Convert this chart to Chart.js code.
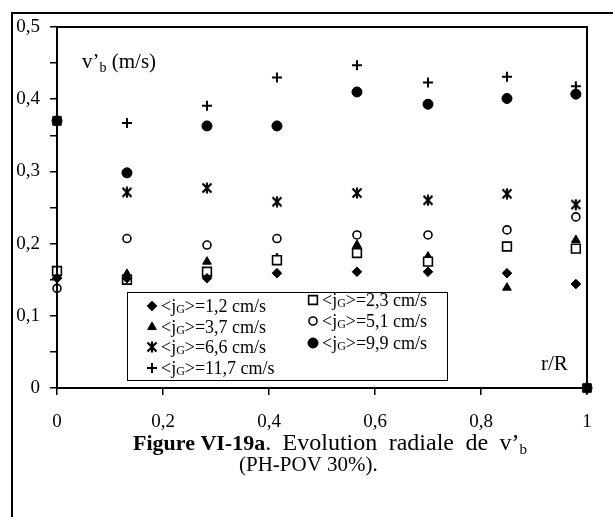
<!DOCTYPE html>
<html>
<head>
<meta charset="utf-8">
<script src="https://cdn.jsdelivr.net/npm/chart.js@4/dist/chart.umd.min.js"></script>
<style>
  html, body { margin: 0; padding: 0; background: #fff; }
  #wrap { width: 613px; height: 517px; }
</style>
</head>
<body>
<div id="wrap"><canvas id="c" width="613" height="517"></canvas></div>
<script>
/* ---- data ---- */
const radialPos = [0, 0.132, 0.283, 0.415, 0.566, 0.700, 0.849, 0.979, 1];

const jg12  = [0.152, 0.152, 0.152, 0.159, 0.161, 0.161, 0.159, 0.144, null];
const jg23  = [0.162, 0.150, 0.161, 0.177, 0.187, 0.175, 0.196, 0.193, null];
const jg37  = [0.155, 0.158, 0.175, 0.180, 0.198, 0.182, 0.139, 0.205, null];
const jg51  = [0.138, 0.207, 0.198, 0.207, 0.212, 0.212, 0.219, 0.237, null];
const jg66  = [0.370, 0.271, 0.277, 0.258, 0.270, 0.260, 0.269, 0.254, 0];
const jg99  = [0.370, 0.298, 0.363, 0.363, 0.410, 0.393, 0.401, 0.407, 0];
const jg117 = [0.370, 0.367, 0.391, 0.430, 0.447, 0.423, 0.431, 0.418, 0];

const seriesLabels = ['1,2', '2,3', '3,7', '5,1', '6,6', '9,9', '11,7'];
const xTicks = [0, 0.2, 0.4, 0.6, 0.8, 1];

const SERIF = "'Liberation Serif', 'Times New Roman', serif";

/* asterisk marker (X with a vertical bar) */
function makeStar() {
  const c = document.createElement('canvas');
  c.width = 12; c.height = 12;
  const g = c.getContext('2d');
  g.strokeStyle = '#000'; g.lineWidth = 2.2; g.lineCap = 'butt';
  g.beginPath();
  g.moveTo(1.5, 1.5); g.lineTo(10.5, 10.5);
  g.moveTo(10.5, 1.5); g.lineTo(1.5, 10.5);
  g.moveTo(6, 0.5); g.lineTo(6, 11.5);
  g.stroke();
  return c;
}
const starImg = makeStar();

function pts(arr) {
  const out = [];
  arr.forEach((v, i) => { if (v !== null) out.push({ x: radialPos[i], y: v }); });
  return out;
}

function ds(label, arr, style, radius, fill, bw) {
  return {
    label: label,
    data: pts(arr),
    pointStyle: style,
    pointRadius: radius,
    pointHoverRadius: radius,
    pointBackgroundColor: fill,
    pointBorderColor: '#000',
    pointBorderWidth: bw,
    showLine: false,
    clip: false
  };
}

const datasets = [
  ds(seriesLabels[0], jg12,  'rectRot',  4.8, '#000', 1),
  ds(seriesLabels[1], jg23,  'rect',     6.2, '#fff', 1.6),
  ds(seriesLabels[2], jg37,  'triangle', 5,   '#000', 1),
  ds(seriesLabels[3], jg51,  'circle',   4,   '#fff', 1.6),
  ds(seriesLabels[4], jg66,  starImg,    6,   '#000', 1),
  ds(seriesLabels[5], jg99,  'circle',   5,   '#000', 1),
  ds(seriesLabels[6], jg117, 'cross',    5,   '#000', 2)
];

/* text with a subscript piece */
function richText(ctx, parts, x, y) {
  let cx = x;
  parts.forEach(p => {
    ctx.font = p.font;
    ctx.fillText(p.t, cx, y + (p.dy || 0));
    cx += ctx.measureText(p.t).width;
  });
  return cx;
}

const decor = {
  id: 'decor',
  beforeDraw(chart) {
    const ctx = chart.ctx;
    ctx.save();
    ctx.fillStyle = '#fff';
    ctx.fillRect(0, 0, chart.width, chart.height);
    ctx.restore();
  },
  afterDraw(chart) {
    const ctx = chart.ctx;
    const a = chart.chartArea;
    ctx.save();
    ctx.strokeStyle = '#000';
    ctx.fillStyle = '#000';

    // outer page frame (left + top only)
    ctx.lineWidth = 2;
    ctx.beginPath();
    ctx.moveTo(12, 517); ctx.lineTo(12, 13); ctx.lineTo(613, 13);
    ctx.stroke();

    // plot frame
    ctx.strokeRect(a.left, a.top, a.right - a.left, a.bottom - a.top);

    // axis titles
    ctx.textBaseline = 'alphabetic';
    richText(ctx, [
      { t: 'v\u2019', font: '21px ' + SERIF },
      { t: 'b', font: '14px ' + SERIF, dy: 4 },
      { t: ' (m/s)', font: '21px ' + SERIF }
    ], 82, 68);
    ctx.font = '21px ' + SERIF;
    ctx.fillText('r/R', 541, 370);

    // legend box
    ctx.lineWidth = 1;
    ctx.strokeRect(127.5, 292.5, 320, 88);
    const H = Chart.helpers;
    const entry = (i, mx, y) => {
      const d = chart.data.datasets[i];
      ctx.fillStyle = d.pointBackgroundColor;
      ctx.strokeStyle = '#000';
      ctx.lineWidth = d.pointBorderWidth;
      H.drawPoint(ctx, { pointStyle: d.pointStyle, radius: d.pointRadius, borderWidth: d.pointBorderWidth, rotation: 0 }, mx, y);
      ctx.fillStyle = '#000';
      richText(ctx, [
        { t: '<j', font: '18px ' + SERIF },
        { t: 'G', font: '12px ' + SERIF, dy: 1 },
        { t: '>=' + d.label + ' cm/s', font: '18px ' + SERIF }
      ], mx + 9, y + 6);
    };
    entry(0, 152, 306);
    entry(2, 152, 327);
    entry(4, 152, 347);
    entry(6, 152, 368);
    entry(1, 313, 300);
    entry(3, 313, 321);
    entry(5, 313, 343);

    // caption (first line justified to the right margin)
    ctx.fillStyle = '#000';
    const reg = '24px ' + SERIF;
    const words = ['Evolution', 'radiale', 'de'];
    let x = richText(ctx, [{ t: 'Figure VI-19a', font: 'bold 22px ' + SERIF }, { t: '. ', font: reg }], 133, 450);
    ctx.font = reg;
    let natural = words.reduce((s, w) => s + ctx.measureText(w + ' ').width, 0) + ctx.measureText('v\u2019').width;
    ctx.font = '15px ' + SERIF;
    natural += ctx.measureText('b').width;
    const extra = Math.max(0, (527 - x - natural) / 4);
    x += extra;
    ctx.font = reg;
    words.forEach(w => {
      ctx.fillText(w, x, 450);
      x += ctx.measureText(w + ' ').width + extra;
    });
    richText(ctx, [
      { t: 'v\u2019', font: reg },
      { t: 'b', font: '15px ' + SERIF, dy: 4 }
    ], x, 450);
    ctx.font = '21px ' + SERIF;
    ctx.fillText('(PH-POV 30%).', 239, 471);
    ctx.restore();
  }
};

const fmt = v => String(Math.round(v * 10) / 10).replace('.', ',');

new Chart(document.getElementById('c'), {
  type: 'scatter',
  data: { datasets: datasets },
  plugins: [decor],
  options: {
    responsive: false,
    animation: false,
    events: [],
    layout: { padding: { top: 27, right: 26, left: 0, bottom: 0 }, autoPadding: false },
    plugins: { legend: { display: false }, tooltip: { enabled: false } },
    scales: {
      x: {
        type: 'linear', min: 0, max: 1,
        afterFit: s => { s.height = 129; },
        afterBuildTicks: s => { s.ticks = xTicks.map(v => ({ value: v })); },
        grid: { drawOnChartArea: false, drawTicks: true, tickLength: 7, color: '#000', lineWidth: 1.5 },
        border: { display: false },
        ticks: { color: '#000', font: { family: SERIF, size: 19 }, padding: 16, maxRotation: 0, autoSkip: false, callback: fmt }
      },
      y: {
        type: 'linear', min: 0, max: 0.5,
        afterFit: s => { s.width = 57; },
        grid: { drawOnChartArea: false, drawTicks: true, tickLength: 7, color: '#000', lineWidth: 1.5 },
        border: { display: false },
        ticks: {
          stepSize: 0.05, autoSkip: false, color: '#000', padding: 10,
          font: { family: SERIF, size: 19 },
          callback: v => (Math.round(v * 100) % 10 === 0 ? fmt(v) : '')
        }
      }
    }
  }
});
</script>
</body>
</html>
